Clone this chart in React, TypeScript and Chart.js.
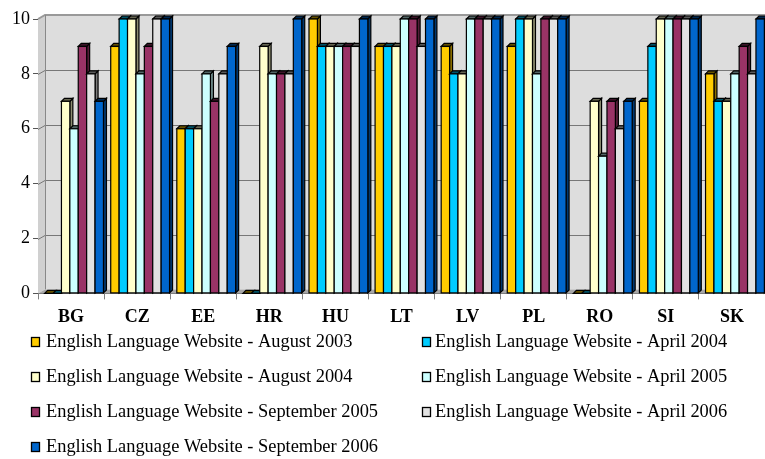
import React, { useEffect, useRef } from "react";
import { Chart, registerables } from "chart.js";

Chart.register(...registerables);

const categories = ["BG", "CZ", "EE", "HR", "HU", "LT", "LV", "PL", "RO", "SI", "SK"];
const seriesLabels = [
  "English Language Website - August 2003",
  "English Language Website - April 2004",
  "English Language Website - August 2004",
  "English Language Website - April 2005",
  "English Language Website - September 2005",
  "English Language Website - April 2006",
  "English Language Website - September 2006",
];
const aug2003 = [0, 9, 6, 0, 10, 9, 9, 9, 0, 7, 8];
const apr2004 = [0, 10, 6, 0, 9, 9, 8, 10, 0, 9, 7];
const aug2004 = [7, 10, 6, 9, 9, 9, 8, 10, 7, 10, 7];
const apr2005 = [6, 8, 8, 8, 9, 10, 10, 8, 5, 10, 8];
const sep2005 = [9, 9, 7, 8, 9, 10, 10, 10, 7, 10, 9];
const apr2006 = [8, 10, 8, 8, 9, 9, 10, 10, 6, 10, 8];
const sep2006 = [7, 10, 9, 10, 10, 10, 10, 10, 7, 10, 10];
const seriesValues = [aug2003, apr2004, aug2004, apr2005, sep2005, apr2006, sep2006];
const seriesColors = ["#FFCC00", "#00CCFF", "#FFFFCC", "#CCFFFF", "#993366", "#E2E2E2", "#0066CC"];
const yTicks = [0, 2, 4, 6, 8, 10];

function shade(hex: string, f: number) {
  const n = parseInt(hex.slice(1), 16);
  const r = Math.round(((n >> 16) & 255) * f);
  const g = Math.round(((n >> 8) & 255) * f);
  const b = Math.round((n & 255) * f);
  return `rgb(${r},${g},${b})`;
}

const WX = 7;
const WY = 4;
const BD = 3;
const BDY = 3;
const SHIFT = 3;

const threeD = {
  id: "threeD",
  beforeDatasetDraw() {
    return false;
  },
  beforeDatasetsDraw(chart: any) {
    const ctx = chart.ctx;
    const ca = chart.chartArea;
    const ys = chart.scales.y;
    ctx.save();
    ctx.fillStyle = "#DDDDDD";
    ctx.fillRect(ca.left + WX, ca.top - WY, ca.right - ca.left + 10, ca.bottom - ca.top);
    ctx.beginPath();
    ctx.moveTo(ca.left, ca.top);
    ctx.lineTo(ca.left + WX, ca.top - WY);
    ctx.lineTo(ca.left + WX, ca.bottom - WY);
    ctx.lineTo(ca.left, ca.bottom);
    ctx.closePath();
    ctx.fillStyle = "#D0D0D0";
    ctx.fill();
    ctx.beginPath();
    ctx.moveTo(ca.left, ca.bottom);
    ctx.lineTo(ca.left + WX, ca.bottom - WY);
    ctx.lineTo(ca.right + WX + 10, ca.bottom - WY);
    ctx.lineTo(ca.right + 10, ca.bottom);
    ctx.closePath();
    ctx.fillStyle = "#A8A8A8";
    ctx.fill();
    ctx.strokeStyle = "#777777";
    ctx.lineWidth = 1;
    yTicks.forEach((v) => {
      if (v === 0 || v === 10) return;
      const y = Math.round(ys.getPixelForValue(v)) + 0.5;
      ctx.beginPath();
      ctx.moveTo(ca.left, y);
      ctx.lineTo(ca.left + WX, y - WY);
      ctx.lineTo(ca.right + WX + 10, y - WY);
      ctx.stroke();
    });
    ctx.strokeStyle = "#999999";
    ctx.lineWidth = 2;
    ctx.beginPath();
    ctx.moveTo(ca.left, ca.top);
    ctx.lineTo(ca.left + WX, ca.top - WY);
    ctx.lineTo(ca.right + WX + 10, ca.top - WY);
    ctx.stroke();
    ctx.lineWidth = 1;
    ctx.strokeStyle = "#888888";
    ctx.beginPath();
    ctx.moveTo(ca.left + WX + 0.5, ca.top - WY);
    ctx.lineTo(ca.left + WX + 0.5, ca.bottom - WY);
    ctx.stroke();
    ctx.restore();
  },
  afterDatasetsDraw(chart: any) {
    const ctx = chart.ctx;
    ctx.save();
    ctx.lineWidth = 1.2;
    ctx.strokeStyle = "#000000";
    const n = chart.data.labels.length;
    for (let j = 0; j < n; j++) {
      for (let i = 0; i < chart.data.datasets.length; i++) {
        const meta = chart.getDatasetMeta(i);
        const el = meta.data[j];
        if (!el) continue;
        const p = el.getProps(["x", "y", "base", "width"], true);
        const color = chart.data.datasets[i].backgroundColor;
        const l = p.x - p.width / 2 + SHIFT;
        const r = p.x + p.width / 2 + SHIFT;
        const t = p.y;
        const b = p.base;
        ctx.beginPath();
        ctx.moveTo(r, t);
        ctx.lineTo(r + BD, t - BDY);
        ctx.lineTo(r + BD, b - BDY);
        ctx.lineTo(r, b);
        ctx.closePath();
        ctx.fillStyle = shade(color, 0.55);
        ctx.fill();
        ctx.stroke();
        ctx.beginPath();
        ctx.moveTo(l, t);
        ctx.lineTo(l + BD, t - BDY);
        ctx.lineTo(r + BD, t - BDY);
        ctx.lineTo(r, t);
        ctx.closePath();
        ctx.fillStyle = shade(color, 0.4);
        ctx.fill();
        ctx.stroke();
        if (b - t > 0.5) {
          ctx.fillStyle = color;
          ctx.fillRect(l, t, r - l, b - t);
          ctx.strokeRect(l, t, r - l, b - t);
        }
      }
    }
    ctx.restore();
  },
  afterDraw(chart: any) {
    const ctx = chart.ctx;
    ctx.save();
    ctx.font = '18.4px "Liberation Serif"';
    ctx.textBaseline = "middle";
    chart.data.datasets.forEach((ds: any, i: number) => {
      const col = i % 2;
      const row = Math.floor(i / 2);
      const bx = col === 0 ? 31 : 422;
      const tx = col === 0 ? 46 : 435;
      const cy = 342 + row * 35;
      ctx.fillStyle = ds.backgroundColor;
      ctx.fillRect(bx, cy - 4.5, 9, 9);
      ctx.strokeStyle = "#000";
      ctx.lineWidth = 1.3;
      ctx.strokeRect(bx + 0.5, cy - 4.5, 8, 9);
      ctx.fillStyle = "#000";
      ctx.fillText(ds.label, tx, cy);
    });
    ctx.restore();
  },
};

export default function App() {
  const ref = useRef<HTMLCanvasElement>(null);
  useEffect(() => {
    if (!ref.current) return;
    Chart.defaults.font.family = '"Liberation Serif", "Times New Roman", serif';
    const chart = new Chart(ref.current, {
      type: "bar",
      data: {
        labels: categories,
        datasets: seriesValues.map((vals, i) => ({
          label: seriesLabels[i],
          data: vals,
          backgroundColor: seriesColors[i],
          categoryPercentage: 0.89,
          barPercentage: 1.0,
        })),
      },
      options: {
        animation: false,
        responsive: true,
        maintainAspectRatio: false,
        layout: { padding: { top: 19, left: 0, right: -3, bottom: 124 } },
        plugins: {
          legend: { display: false },
          tooltip: { enabled: false },
        },
        scales: {
          x: {
            grid: { offset: true, drawOnChartArea: false, tickLength: 6, color: "#808080" },
            border: { color: "#555555" },
            ticks: { font: { size: 18, weight: "bold" }, color: "#000", padding: 7 },
          },
          y: {
            min: 0,
            max: 10,
            afterFit: (s: any) => {
              s.width = 38;
            },
            afterBuildTicks: (s: any) => {
              s.ticks = yTicks.map((v) => ({ value: v }));
            },
            grid: { drawOnChartArea: false, tickLength: 5, color: "#555555" },
            border: { color: "#555555" },
            ticks: { font: { size: 18 }, color: "#000", padding: 3 },
          },
        },
      },
      plugins: [threeD],
    });
    return () => chart.destroy();
  }, []);
  return (
    <div style={{ position: "absolute", left: 0, top: 0, width: 765, height: 459 }}>
      <canvas ref={ref} />
    </div>
  );
}
